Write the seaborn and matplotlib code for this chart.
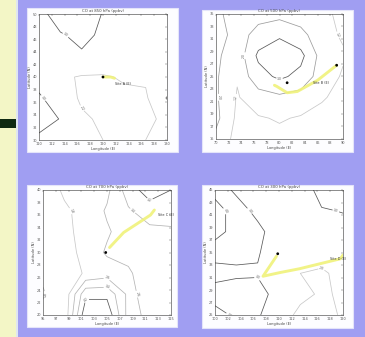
import numpy as np
import pandas as pd
import matplotlib
matplotlib.use("Agg")
import matplotlib.pyplot as plt
from matplotlib.patches import Rectangle
import seaborn as sns

sns.set_style("white")
plt.rcParams['font.family'] = ['DejaVu Sans']

# ---------------- data ----------------
# grid fractions along each axis (7 nodes)
grid_frac = [0, 1/6, 2/6, 3/6, 4/6, 5/6, 1]

titles = ["CO at 850 hPa (ppbv)", "CO at 500 hPa (ppbv)",
          "CO at 700 hPa (ppbv)", "CO at 300 hPa (ppbv)"]
lon_ranges = [(110, 130), (70, 90), (95, 115), (100, 120)]
lat_ranges = [(30, 50), (15, 35), (20, 40), (25, 45)]

# field values, rows listed north to south
field_1 = [[2.6, 3.6, 3.6, 2.95, 2.6, 2.4, 2.3],
           [2.5, 2.9, 3.3, 2.8, 2.5, 2.4, 2.3],
           [2.5, 2.6, 2.85, 2.6, 2.4, 2.35, 2.3],
           [2.7, 2.3, 2.15, 2.15, 2.25, 2.3, 2.3],
           [3.1, 2.6, 2.1, 2.15, 2.1, 2.1, 3.05],
           [3.6, 2.95, 2.3, 2.1, 2.1, 2.1, 2.3],
           [2.7, 2.3, 2.25, 2.2, 2.15, 2.2, 2.3]]
field_2 = [[2.3, 1.4, 1.6, 1.7, 1.5, 1.3, 1.2],
           [2.6, 1.5, 2.4, 2.8, 2.3, 1.4, 1.2],
           [2.2, 1.4, 3.2, 3.9, 3.3, 1.6, 1.3],
           [2.1, 1.3, 2.6, 3.2, 2.7, 1.5, 1.2],
           [2.1, 1.2, 1.6, 1.8, 1.6, 1.3, 1.1],
           [2.2, 1.1, 1.2, 1.3, 1.2, 1.1, 1.0],
           [1.8, 1.0, 0.9, 1.1, 1.0, 1.0, 1.0]]
field_3 = [[1.4, 1.9, 2.2, 2.4, 3.8, 4.6, 4.2],
           [1.3, 1.7, 2.0, 2.7, 3.3, 3.8, 3.7],
           [1.2, 1.5, 2.2, 2.5, 3.0, 3.2, 3.3],
           [1.1, 1.4, 2.1, 2.7, 2.8, 3.1, 3.2],
           [1.6, 1.3, 1.9, 2.2, 2.5, 3.0, 3.1],
           [1.9, 1.2, 4.0, 4.0, 2.4, 2.9, 3.0],
           [1.5, 1.2, 4.8, 4.8, 2.3, 2.8, 3.0]]
field_4 = [[3.6, 2.8, 2.4, 2.3, 2.2, 3.5, 3.6],
           [4.5, 3.5, 2.7, 2.3, 2.2, 2.9, 3.05],
           [4.4, 3.6, 3.3, 2.4, 2.2, 2.5, 2.6],
           [3.4, 3.3, 3.1, 2.3, 2.1, 2.3, 2.4],
           [2.6, 2.8, 2.9, 2.2, 2.0, 1.9, 2.2],
           [3.5, 3.6, 3.4, 2.6, 2.2, 1.9, 2.1],
           [2.6, 3.2, 3.1, 2.4, 1.8, 1.7, 2.1]]
fields = [field_1, field_2, field_3, field_4]

levels = [[2.2, 3.0], [1.25, 2.0, 3.0], [1.8, 2.6, 3.4, 4.2], [2.0, 3.0, 4.0]]
level_colors = [["#c8c8c8", "#585858"],
                ["#c8c8c8", "#9c9c9c", "#585858"],
                ["#c8c8c8", "#b4b4b4", "#b4b4b4", "#585858"],
                ["#c8c8c8", "#585858", "#585858"]]

# trajectory paths (lon, lat)
path_lon = [[120.0, 121.2, 121.8],
            [89.0, 86.0, 82.8, 81.2, 79.6, 79.2],
            [105.4, 107.6, 111.8, 112.4],
            [109.6, 107.5, 110.2, 113.2, 119.6, 120.0]]
path_lat = [[40.0, 40.0, 39.8],
            [26.8, 24.4, 22.6, 22.4, 23.4, 23.6],
            [30.8, 33.2, 36.0, 36.8],
            [34.4, 31.2, 31.8, 32.4, 34.0, 34.6]]

# site markers
site_lon = [[120.0], [81.2, 89.0], [104.8], [109.8]]
site_lat = [[40.0], [24.0, 26.8], [30.0], [34.8]]

# site names and their label anchors
site_names = ["Site A (E)", "Site B (E)", "Site C (E)", "Site D (E)"]
name_lon = [121.8, 85.2, 113.0, 118.0]
name_lat = [38.8, 23.8, 35.8, 33.8]

# ---------------- layout ----------------
W, H = 365, 337
LAVENDER = "#a09ef2"
STRIP = "#f3f6c6"
BAR = "#0f2a12"


def px_rect(x0, y0, x1, y1):
    return [x0 / W, 1 - y1 / H, (x1 - x0) / W, (y1 - y0) / H]


fig = plt.figure(figsize=(W / 100, H / 100), dpi=100)
fig.patch.set_facecolor(LAVENDER)

# side strip and marker bar
fig.add_artist(Rectangle((0, 0), 16 / W, 1, transform=fig.transFigure,
                         facecolor=STRIP, edgecolor="none", zorder=-5))
fig.add_artist(Rectangle((16 / W, 0), 1.5 / W, 1, transform=fig.transFigure,
                         facecolor="#dfe6f0", edgecolor="none", zorder=-5))
fig.add_artist(Rectangle((0, 1 - 128 / H), 16 / W, 9 / H, transform=fig.transFigure,
                         facecolor=BAR, edgecolor="none", zorder=-4))

panel_boxes = [(27, 8, 178, 152), (202, 10, 353, 152),
               (27, 185, 177, 327), (202, 185, 353, 328)]
axes_boxes = [(39, 14, 167, 140), (216, 14, 343, 139),
              (43, 190, 171, 315), (215, 190, 343, 315)]

for pb in panel_boxes:
    r = px_rect(*pb)
    fig.add_artist(Rectangle((r[0], r[1]), r[2], r[3], transform=fig.transFigure,
                             facecolor="#fdfdff", edgecolor="#e4e4fa", lw=0.8,
                             zorder=-3))

for i in range(4):
    ax = fig.add_axes(px_rect(*axes_boxes[i]))
    ax.set_facecolor("white")
    lo0, lo1 = lon_ranges[i]
    la0, la1 = lat_ranges[i]
    gx = [lo0 + f * (lo1 - lo0) for f in grid_frac]
    gy = [la0 + f * (la1 - la0) for f in grid_frac]
    Z = np.array(fields[i])[::-1]
    cs = ax.contour(gx, gy, Z, levels=levels[i], colors=level_colors[i],
                    linewidths=0.55)
    ax.clabel(cs, fontsize=2.2, fmt="%.1f", inline=True, inline_spacing=1,
              colors="#555555")

    df = pd.DataFrame({"lon": path_lon[i], "lat": path_lat[i]})
    sns.lineplot(data=df, x="lon", y="lat", sort=False, estimator=None,
                 color="#f0f27a", lw=2.1, alpha=0.9, ax=ax, zorder=3)
    sns.scatterplot(x=site_lon[i], y=site_lat[i], color="black", s=4,
                    edgecolor="none", ax=ax, zorder=4)
    ax.text(name_lon[i], name_lat[i], site_names[i], fontsize=2.4,
            color="#333333", zorder=5)

    ax.set_xlim(lo0, lo1)
    ax.set_ylim(la0, la1)
    ax.set_xticks(np.arange(lo0, lo1 + 0.1, 2))
    ax.set_yticks(np.arange(la0, la1 + 0.1, 2))
    ax.tick_params(direction="in", length=1.5, width=0.3, top=True, right=True,
                   labelsize=2.5, pad=1.2, colors="#555555")
    for sp in ax.spines.values():
        sp.set_linewidth(0.4)
        sp.set_color("#333333")
    ax.set_title(titles[i], fontsize=2.8, pad=1.5, color="#444444")
    ax.set_xlabel("Longitude (E)", fontsize=2.6, labelpad=0.8, color="#444444")
    ax.set_ylabel("Latitude (N)", fontsize=2.6, labelpad=0.8, color="#444444")

fig.savefig("out.png", dpi=100, facecolor=fig.get_facecolor())
